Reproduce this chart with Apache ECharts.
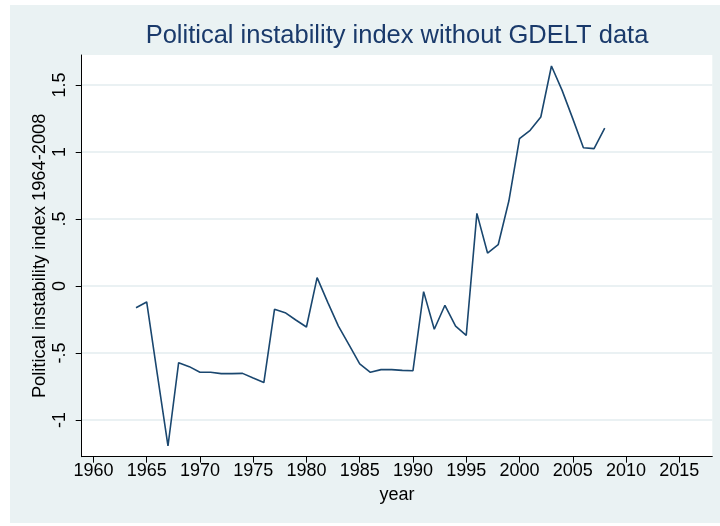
<!DOCTYPE html>
<html>
<head>
<meta charset="utf-8">
<script src="https://cdn.jsdelivr.net/npm/echarts@6/dist/echarts.min.js"></script>
<style>
  html, body { margin: 0; padding: 0; background: #fff; }
  #main { width: 720px; height: 526px; }
</style>
</head>
<body>
<div id="main"></div>
<script>
// years and index values
const years = [1964, 1965, 1966, 1967, 1968, 1969, 1970, 1971, 1972, 1973, 1974, 1975, 1976,
  1977, 1978, 1979, 1980, 1981, 1982, 1983, 1984, 1985, 1986, 1987, 1988, 1989, 1990,
  1991, 1992, 1993, 1994, 1995, 1996, 1997, 1998, 1999, 2000, 2001, 2002, 2003, 2004,
  2005, 2006, 2007, 2008];
const instability = [-0.162, -0.119, -0.66, -1.194, -0.572, -0.602, -0.644, -0.644, -0.654, -0.654, -0.652, -0.687, -0.721,
  -0.174, -0.199, -0.254, -0.306, 0.062, -0.122, -0.299, -0.44, -0.582, -0.644, -0.624, -0.624, -0.63, -0.632,
  -0.042, -0.323, -0.144, -0.299, -0.368, 0.542, 0.246, 0.308, 0.634, 1.099, 1.162, 1.261, 1.642, 1.46,
  1.249, 1.032, 1.025, 1.179];
const xTicks = [1960, 1965, 1970, 1975, 1980, 1985, 1990, 1995, 2000, 2005, 2010, 2015];
const yTicks = [-1, -0.5, 0, 0.5, 1, 1.5];

const chart = echarts.init(document.getElementById("main"));

const option = {
  backgroundColor: "#fff",
  animation: false,
  // stata style outer panel
  graphic: [{
    type: "rect",
    z: -10,
    shape: { x: 10, y: 5, width: 710, height: 518 },
    style: { fill: "#eaf2f3" },
  }],
  title: {
    text: "Political instability index without GDELT data",
    left: 392,
    textAlign: "center",
    top: 18,
    textStyle: {
      color: "#1a3a6b",
      fontFamily: "Liberation Sans",
      fontSize: 25.5,
      fontWeight: "normal",
    },
  },
  grid: {
    show: true,
    left: 81.7,
    right: 7.7,
    top: 55,
    bottom: 69.3,
    backgroundColor: "#fff",
    borderWidth: 0,
  },
  xAxis: {
    type: "value",
    min: 1958.9,
    max: 2018.1,
    name: "year",
    nameLocation: "middle",
    nameGap: 29,
    nameMoveOverlap: false,
    nameTextStyle: { color: "#000", fontFamily: "Liberation Sans", fontSize: 18 },
    axisLine: { onZero: false, lineStyle: { color: "#000", width: 1 } },
    axisTick: { customValues: xTicks, length: 6, lineStyle: { color: "#000" } },
    axisLabel: {
      customValues: xTicks,
      color: "#000",
      fontFamily: "Liberation Sans",
      fontSize: 18,
      margin: 5,
      formatter: (v) => String(v),
    },
    splitLine: { show: false },
  },
  yAxis: {
    type: "value",
    min: -1.274,
    max: 1.724,
    name: "Political instability index 1964-2008",
    nameLocation: "middle",
    nameRotate: 90,
    nameGap: 33,
    nameMoveOverlap: false,
    nameTextStyle: { color: "#000", fontFamily: "Liberation Sans", fontSize: 18.3 },
    axisLine: { show: true, onZero: false, lineStyle: { color: "#000", width: 1 } },
    axisTick: { show: true, customValues: yTicks, length: 6, lineStyle: { color: "#000" } },
    axisLabel: {
      customValues: yTicks,
      rotate: 90,
      color: "#000",
      fontFamily: "Liberation Sans",
      fontSize: 18,
      margin: 13,
      formatter: (v) => String(v).replace(/^(-?)0\./, "$1."),
    },
    splitLine: { show: true, lineStyle: { color: "#e3ecef", width: 1.5 } },
  },
  series: [{
    type: "line",
    data: years.map((y, i) => [y, instability[i]]),
    showSymbol: false,
    lineStyle: { color: "#1a476f", width: 1.6 },
  }],
};

chart.setOption(option);
</script>
</body>
</html>
